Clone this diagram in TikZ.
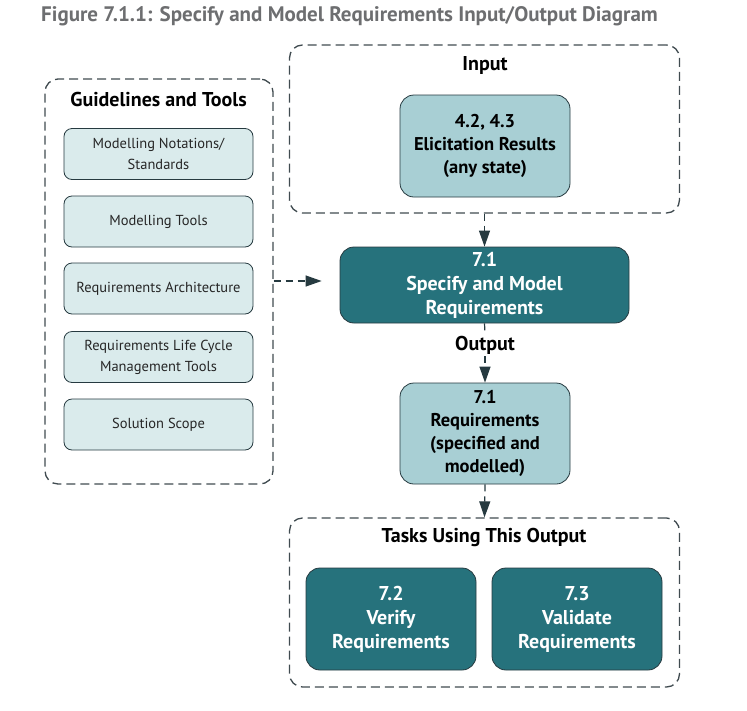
\documentclass[tikz,border=0pt]{standalone}
\usepackage{fontspec}
\setmainfont{PT Sans}
\usetikzlibrary{arrows.meta}
\definecolor{dteal}{HTML}{26727C}
\definecolor{lteal}{HTML}{A8CFD4}
\definecolor{pteal}{HTML}{DAEBEC}
\definecolor{edgec}{HTML}{263A40}
\definecolor{dashc}{HTML}{404B50}
\definecolor{titlec}{HTML}{6D6E70}
\begin{document}
\begin{tikzpicture}[x=1pt,y=-1pt,
  container/.style={draw=dashc, line width=1.3pt, dash pattern=on 9pt off 5pt, rounded corners=13pt, inner sep=0pt},
  tealbox/.style={draw=edgec, line width=0.8pt, rounded corners=14pt, inner sep=0pt, align=center},
  darkbox/.style={tealbox, fill=dteal, text=white, font=\fontsize{20}{24}\selectfont\bfseries, minimum width=170pt, minimum height=102pt},
  lightbox/.style={tealbox, fill=lteal, text=black, font=\fontsize{18.5}{23}\selectfont\bfseries, minimum width=170pt},
  toolbox/.style={draw=edgec, line width=0.8pt, rounded corners=8pt, inner sep=0pt, align=center, fill=pteal, text=black!85, font=\fontsize{14.5}{21}\selectfont, minimum width=189pt, minimum height=51pt},
  heading/.style={font=\fontsize{20}{24}\selectfont\bfseries, text=black, inner sep=0pt},
  flow/.style={draw=edgec, line width=1.2pt, dash pattern=on 7pt off 5pt},
  flowtip/.style={flow, -{Triangle[length=16pt,width=11pt]}}
]
\useasboundingbox (0,0) rectangle (747,710);
% title
\node[anchor=base west, inner sep=0pt, text=titlec, font=\fontsize{21}{25}\selectfont\bfseries] (title) at (41,21.7) {Figure 7.1.1: Specify and Model Requirements Input/Output Diagram};
% containers
\node[container, minimum width=390pt, minimum height=168pt] (inbox) at (484.5,129) {};
\node[container, minimum width=228pt, minimum height=405pt] (guide) at (159,281.5) {};
\node[container, minimum width=390pt, minimum height=169pt] (tasks) at (484.5,602.5) {};
% headings
\node[heading] (inlbl) at (485,65) {Input};
\node[heading] (guidelbl) at (158.5,99) {Guidelines and Tools};
\node[heading] (tasklbl) at (484,537) {Tasks Using This Output};
% input node
\node[lightbox, minimum height=102pt] (elic) at (485,146) {4.2, 4.3\\Elicitation Results\\(any state)};
% tools
\node[toolbox] (s1) at (158.5,154) {Modelling Notations/\\Standards};
\node[toolbox] (s2) at (158.5,221.5) {Modelling Tools};
\node[toolbox] (s3) at (158.5,288.5) {Requirements Architecture};
\node[toolbox] (s4) at (158.5,357) {Requirements Life Cycle\\Management Tools};
\node[toolbox] (s5) at (158.5,424.5) {Solution Scope};
% main task
\node[darkbox, minimum width=289pt, minimum height=76pt] (main) at (484.5,285) {7.1\\Specify and Model\\Requirements};
% output
\node[heading, fill=white, inner sep=2pt] (outlbl) at (485,345) {Output};
\node[lightbox, minimum height=101pt] (req) at (485,433.5) {7.1\\Requirements\\(specified and\\modelled)};
% tasks
\node[darkbox] (t72) at (391,619) {7.2\\Verify\\Requirements};
\node[darkbox] (t73) at (577,619) {7.3\\Validate\\Requirements};
% connectors
\draw[flowtip] (inbox.south) -- (main.north);
\draw[flowtip, shorten >=18pt] (guide.east |- 0,281) -- (main.west |- 0,281);
\draw[flow] (main.south) -- (outlbl.north);
\draw[flowtip] (outlbl.south) -- (req.north);
\draw[flowtip] (req.south) -- (tasks.north);
\end{tikzpicture}
\end{document}
